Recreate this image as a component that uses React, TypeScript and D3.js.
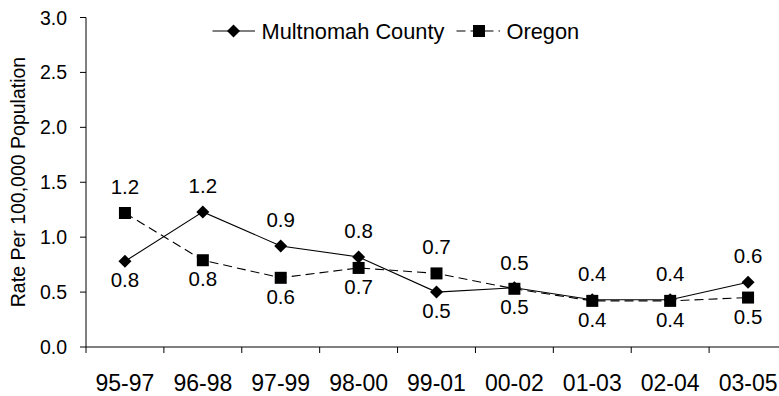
import React from "react";
import * as d3 from "d3";

const categories = ["95-97", "96-98", "97-99", "98-00", "99-01", "00-02", "01-03", "02-04", "03-05"];
const multnomahValues = [0.78, 1.23, 0.92, 0.82, 0.5, 0.54, 0.43, 0.43, 0.59];
const oregonValues = [1.22, 0.79, 0.63, 0.72, 0.67, 0.53, 0.42, 0.42, 0.45];
const multnomahLabels = ["0.8", "1.2", "0.9", "0.8", "0.5", "0.5", "0.4", "0.4", "0.6"];
const oregonLabels = ["1.2", "0.8", "0.6", "0.7", "0.7", "0.5", "0.4", "0.4", "0.5"];
const multnomahPlacement = ["below", "above", "above", "above", "below", "below", "above", "above", "above"];
const oregonPlacement = ["above", "below", "below", "below", "above", "above", "below", "below", "below"];
const yTicks = [0, 0.5, 1.0, 1.5, 2.0, 2.5, 3.0];
const seriesNames = ["Multnomah County", "Oregon"];
const yTitle = "Rate Per 100,000 Population";

const W = 779;
const H = 396;
const FONT = "'Liberation Sans', Arial, Helvetica, sans-serif";

export default function App() {
  const left = 86;
  const right = 787;
  const top = 17.5;
  const bottom = 347;

  const x = d3.scaleBand<string>().domain(categories).range([left, right]).paddingInner(0).paddingOuter(0);
  const y = d3.scaleLinear().domain([0, 3]).range([bottom, top]);
  const cx = (c: string) => (x(c) as number) + x.bandwidth() / 2;

  const line = d3
    .line<number>()
    .x((_, i) => cx(categories[i]))
    .y((v) => y(v));

  const diamond = (px: number, py: number, r: number) =>
    `M${px},${py - r}L${px + r},${py}L${px},${py + r}L${px - r},${py}Z`;
  const square = (px: number, py: number, s: number) => (
    <rect x={px - s / 2} y={py - s / 2} width={s} height={s} fill="#000" />
  );

  const labelY = (v: number, place: string) => (place === "above" ? y(v) - 19 : y(v) + 26);

  const xTickPositions = [...categories.map((c) => x(c) as number), right];

  return (
    <svg
      width={W}
      height={H}
      style={{ position: "absolute", left: 0, top: 0, background: "#fff", display: "block" }}
      fontFamily={FONT}
    >
      <rect x={0} y={0} width={W} height={H} fill="#fff" />

      {/* Y axis */}
      <line x1={left} x2={left} y1={top} y2={bottom} stroke="#000" strokeWidth={1} />
      {yTicks.map((t) => (
        <g key={t}>
          <line x1={left - 6} x2={left} y1={y(t)} y2={y(t)} stroke="#000" strokeWidth={1} />
          <text x={67} y={y(t)} dy="0.36em" textAnchor="end" fontSize={19.5} fill="#000">
            {t.toFixed(1)}
          </text>
        </g>
      ))}

      {/* X axis */}
      <line x1={left} x2={right} y1={bottom} y2={bottom} stroke="#000" strokeWidth={1} />
      {xTickPositions.map((p, i) => (
        <line key={i} x1={p} x2={p} y1={bottom} y2={bottom + 6} stroke="#000" strokeWidth={1} />
      ))}
      {categories.map((c) => (
        <text key={c} x={cx(c)} y={391} textAnchor="middle" fontSize={23} fill="#000">
          {c}
        </text>
      ))}

      {/* Y title */}
      <text
        transform={`translate(24.5,182) rotate(-90)`}
        textAnchor="middle"
        fontSize={19.5}
        fill="#000"
      >
        {yTitle}
      </text>

      {/* Oregon series */}
      <path d={line(oregonValues) || ""} fill="none" stroke="#000" strokeWidth={1.1} strokeDasharray="9,5" />
      {oregonValues.map((v, i) => (
        <g key={"o" + i}>{square(cx(categories[i]), y(v), 12)}</g>
      ))}

      {/* Multnomah series */}
      <path d={line(multnomahValues) || ""} fill="none" stroke="#000" strokeWidth={1.1} />
      {multnomahValues.map((v, i) => (
        <path key={"m" + i} d={diamond(cx(categories[i]), y(v), 6.5)} fill="#000" />
      ))}

      {/* Data labels */}
      {multnomahValues.map((v, i) => (
        <text
          key={"ml" + i}
          x={cx(categories[i])}
          y={labelY(v, multnomahPlacement[i])}
          textAnchor="middle"
          fontSize={20.5}
          fill="#000"
        >
          {multnomahLabels[i]}
        </text>
      ))}
      {oregonValues.map((v, i) => (
        <text
          key={"ol" + i}
          x={cx(categories[i])}
          y={labelY(v, oregonPlacement[i])}
          textAnchor="middle"
          fontSize={20.5}
          fill="#000"
        >
          {oregonLabels[i]}
        </text>
      ))}

      {/* Legend */}
      <g>
        <line x1={212.5} x2={255} y1={31} y2={31} stroke="#000" strokeWidth={1.1} />
        <path d={diamond(233.5, 31, 6.5)} fill="#000" />
        <text x={261.5} y={38.7} fontSize={21.8} fill="#000">
          {seriesNames[0]}
        </text>
        <line x1={456.5} x2={500} y1={31} y2={31} stroke="#000" strokeWidth={1.1} strokeDasharray="9,5" />
        {square(479, 31, 12)}
        <text x={506.5} y={38.7} fontSize={21.8} fill="#000">
          {seriesNames[1]}
        </text>
      </g>
    </svg>
  );
}
